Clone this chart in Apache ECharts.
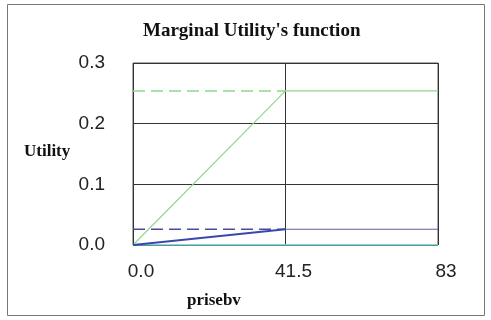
<!DOCTYPE html>
<html>
<head>
<meta charset="utf-8">
<script src="https://cdn.jsdelivr.net/npm/echarts@6/dist/echarts.min.js"></script>
<style>
  html, body { margin: 0; padding: 0; background: #fff; }
  #chart { width: 491px; height: 320px; }
</style>
</head>
<body>
<div id="chart"></div>
<script>
// data
var xPoints = [0, 41.5, 83];
var greenUtility = [0, 0.254, 0.254];
var greenLevel = [0.254, 0.254];
var blueUtility = [0, 0.026];
var blueTail = [0.026, 0.026];
var blueLevel = [0.026, 0.026];
var baseUtility = [0, 0, 0];
var xTicks = ['0.0', '41.5', '83'];

function pairs(xs, ys) {
    return ys.map(function (v, i) { return [xs[i], v]; });
}

var dom = document.getElementById('chart');
var myChart = echarts.init(dom);

myChart.setOption({
    animation: false,
    graphic: [{
        type: 'rect',
        shape: { x: 7.5, y: 4.5, width: 477, height: 311 },
        style: { fill: 'none', stroke: '#777', lineWidth: 1 }
    }],
    title: [
        {
            text: "Marginal Utility's function",
            left: 138,
            top: 17,
            textStyle: { fontFamily: 'Liberation Serif', fontWeight: 'bold', fontSize: 19, color: '#111' }
        },
        {
            text: 'Utility',
            left: 19,
            top: 138,
            textStyle: { fontFamily: 'Liberation Serif', fontWeight: 'bold', fontSize: 17, color: '#111' }
        },
        {
            text: 'prisebv',
            left: 182,
            top: 287,
            textStyle: { fontFamily: 'Liberation Serif', fontWeight: 'bold', fontSize: 17, color: '#111' }
        }
    ],
    grid: {
        top: 63,
        left: 133,
        right: 53,
        bottom: 75,
        show: true,
        borderColor: '#555',
        borderWidth: 1
    },
    xAxis: {
        type: 'value',
        min: 0,
        max: 83,
        interval: 41.5,
        axisLine: { show: false },
        axisTick: { show: false },
        splitLine: { show: true, lineStyle: { color: '#333', width: 1 } },
        axisLabel: {
            margin: 17,
            padding: [0, 0, 0, 16],
            fontFamily: 'Liberation Sans',
            fontSize: 19,
            color: '#222',
            formatter: function (v) { return xTicks[xPoints.indexOf(v)]; }
        }
    },
    yAxis: {
        type: 'value',
        min: 0,
        max: 0.3,
        interval: 0.1,
        axisLine: { show: false },
        axisTick: { show: false },
        splitLine: { show: true, lineStyle: { color: '#333', width: 1 } },
        axisLabel: {
            margin: 28,
            fontFamily: 'Liberation Sans',
            fontSize: 19,
            color: '#222',
            formatter: function (v) { return v.toFixed(1); }
        }
    },
    series: [
        {
            type: 'line',
            symbol: 'none',
            data: pairs(xPoints, baseUtility),
            lineStyle: { color: '#7fe3e3', width: 1.5 }
        },
        {
            type: 'line',
            symbol: 'none',
            data: pairs(xPoints, greenLevel),
            lineStyle: { color: '#8fd88f', width: 1.5, type: [12, 6] }
        },
        {
            type: 'line',
            symbol: 'none',
            data: pairs(xPoints, greenUtility),
            lineStyle: { color: '#8fd88f', width: 1.2 }
        },
        {
            type: 'line',
            symbol: 'none',
            data: pairs(xPoints, blueLevel),
            lineStyle: { color: '#4a4a9a', width: 1.5, type: [12, 6] }
        },
        {
            type: 'line',
            symbol: 'none',
            data: pairs(xPoints.slice(1), blueTail),
            lineStyle: { color: '#6a5aa8', width: 1.2 }
        },
        {
            type: 'line',
            symbol: 'none',
            data: pairs(xPoints, blueUtility),
            lineStyle: { color: '#3848b0', width: 2 }
        }
    ]
});

window.addEventListener('resize', function () {
    myChart.resize();
});
</script>
</body>
</html>
